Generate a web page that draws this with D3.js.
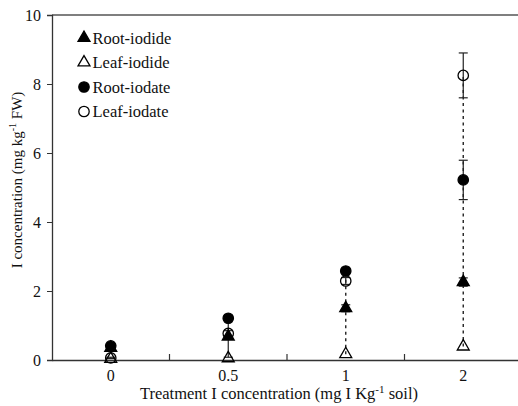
<!DOCTYPE html>
<html><head><meta charset="utf-8">
<script src="https://cdn.jsdelivr.net/npm/d3@7"></script>
<style>body{margin:0;background:#fff}svg{display:block}</style>
</head><body>
<svg id="c" width="518" height="406"></svg>
<script>
const categories = ["0", "0.5", "1", "2"];
const yTicks = [0, 2, 4, 6, 8, 10];
const rootIodide = [0.35, 0.68, 1.50, 2.26];
const rootIodideSD = [0.02, 0.60, 0.10, 0.12];
const leafIodide = [0.03, 0.05, 0.17, 0.39];
const rootIodate = [0.41, 1.21, 2.58, 5.22];
const rootIodateSD = [0.03, 0.05, 0.06, 0.57];
const leafIodate = [0.06, 0.77, 2.29, 8.25];
const leafIodateSD = [0.02, 0.08, 0.10, 0.65];
const dashedConnector = [false, false, true, true];
const seriesNames = ["Root-iodide", "Leaf-iodide", "Root-iodate", "Leaf-iodate"];

const FONT = "'Liberation Serif', 'DejaVu Serif', serif";
const svg = d3.select("#c");
const m = {l: 52, t: 15, r: 522, b: 360};
const x = d3.scaleBand().domain(categories).range([m.l, m.r]);
const y = d3.scaleLinear().domain([0, 10]).range([m.b, m.t]);
const cx = c => x(c) + x.bandwidth() / 2;

// frame top line
svg.append("line").attr("x1", m.l).attr("x2", m.r).attr("y1", m.t).attr("y2", m.t)
  .attr("stroke", "#555").attr("stroke-width", 1.5);

// y axis
const ya = svg.append("g").attr("transform", `translate(${m.l},0)`)
  .call(d3.axisLeft(y).tickValues(yTicks).tickSize(5).tickPadding(6).tickFormat(d3.format("d")));
ya.attr("font-family", FONT).attr("font-size", 16);
ya.select(".domain").attr("stroke", "#333").attr("stroke-width", 1.3);
ya.selectAll(".tick line").attr("stroke", "#333");
ya.selectAll("text").attr("fill", "#111");

// x axis: labels at centers, inward ticks at band boundaries
const xa = svg.append("g").attr("transform", `translate(0,${m.b})`)
  .call(d3.axisBottom(x).tickSize(0).tickPadding(10));
xa.attr("font-family", FONT).attr("font-size", 16);
xa.select(".domain").attr("stroke", "#333").attr("stroke-width", 1.5);
xa.selectAll("text").attr("fill", "#111");
categories.slice(1).forEach(c => {
  svg.append("line").attr("x1", x(c)).attr("x2", x(c)).attr("y1", m.b).attr("y2", m.b - 6)
    .attr("stroke", "#333").attr("stroke-width", 1.2);
});

// connectors
categories.forEach((c, i) => {
  if (!dashedConnector[i]) return;
  const vals = [rootIodide[i], leafIodide[i], rootIodate[i], leafIodate[i]];
  svg.append("line").attr("x1", cx(c)).attr("x2", cx(c))
    .attr("y1", y(d3.min(vals))).attr("y2", y(d3.max(vals)))
    .attr("stroke", "#222").attr("stroke-width", 1.4).attr("stroke-dasharray", "3,3.5");
});

// error bars
function errBars(vals, sds) {
  categories.forEach((c, i) => {
    const X = cx(c), hi = y(vals[i] + sds[i]), lo = y(vals[i] - sds[i]);
    svg.append("line").attr("x1", X).attr("x2", X).attr("y1", hi).attr("y2", lo)
      .attr("stroke", "#222").attr("stroke-width", 1.2);
    [hi, lo].forEach(yy => svg.append("line").attr("x1", X - 4.5).attr("x2", X + 4.5)
      .attr("y1", yy).attr("y2", yy).attr("stroke", "#222").attr("stroke-width", 1.2));
  });
}
errBars(rootIodide, rootIodideSD);
errBars(rootIodate, rootIodateSD);
errBars(leafIodate, leafIodateSD);

const tri = d3.symbol().type(d3.symbolTriangle).size(62);
const circ = d3.symbol().type(d3.symbolCircle).size(85);

function drawSeries(vals, sym, filled) {
  svg.append("g").selectAll("path").data(vals).join("path")
    .attr("d", sym)
    .attr("transform", (d, i) => `translate(${cx(categories[i])},${y(d)})`)
    .attr("fill", filled ? "#000" : "none")
    .attr("stroke", "#000").attr("stroke-width", 1.3);
}
drawSeries(leafIodide, tri, false);
drawSeries(rootIodide, tri, true);
drawSeries(rootIodate, circ, true);
drawSeries(leafIodate, circ, false);

// legend
const legSym = [[tri, true], [tri, false], [circ, true], [circ, false]];
seriesNames.forEach((n, i) => {
  const yy = 38 + i * 24.5;
  svg.append("path").attr("d", legSym[i][0]).attr("transform", `translate(84,${yy})`)
    .attr("fill", legSym[i][1] ? "#000" : "none").attr("stroke", "#000").attr("stroke-width", 1.3);
  svg.append("text").attr("x", 92.5).attr("y", yy + 5.5)
    .attr("font-family", FONT).attr("font-size", 16.5).attr("fill", "#111").text(n);
});

// axis titles
const yt = svg.append("text").attr("transform", "translate(22,180) rotate(-90)")
  .attr("text-anchor", "middle").attr("font-family", FONT).attr("font-size", 15).attr("fill", "#111");
yt.append("tspan").text("I concentration (mg kg");
yt.append("tspan").attr("dy", -6).attr("font-size", 10).text("-1");
yt.append("tspan").attr("dy", 6).text(" FW)");

const xt = svg.append("text").attr("x", 279).attr("y", 399)
  .attr("text-anchor", "middle").attr("font-family", FONT).attr("font-size", 16.5).attr("fill", "#111");
xt.append("tspan").text("Treatment I concentration (mg I Kg");
xt.append("tspan").attr("dy", -6).attr("font-size", 11).text("-1");
xt.append("tspan").attr("dy", 6).text(" soil)");
</script>
</body></html>
